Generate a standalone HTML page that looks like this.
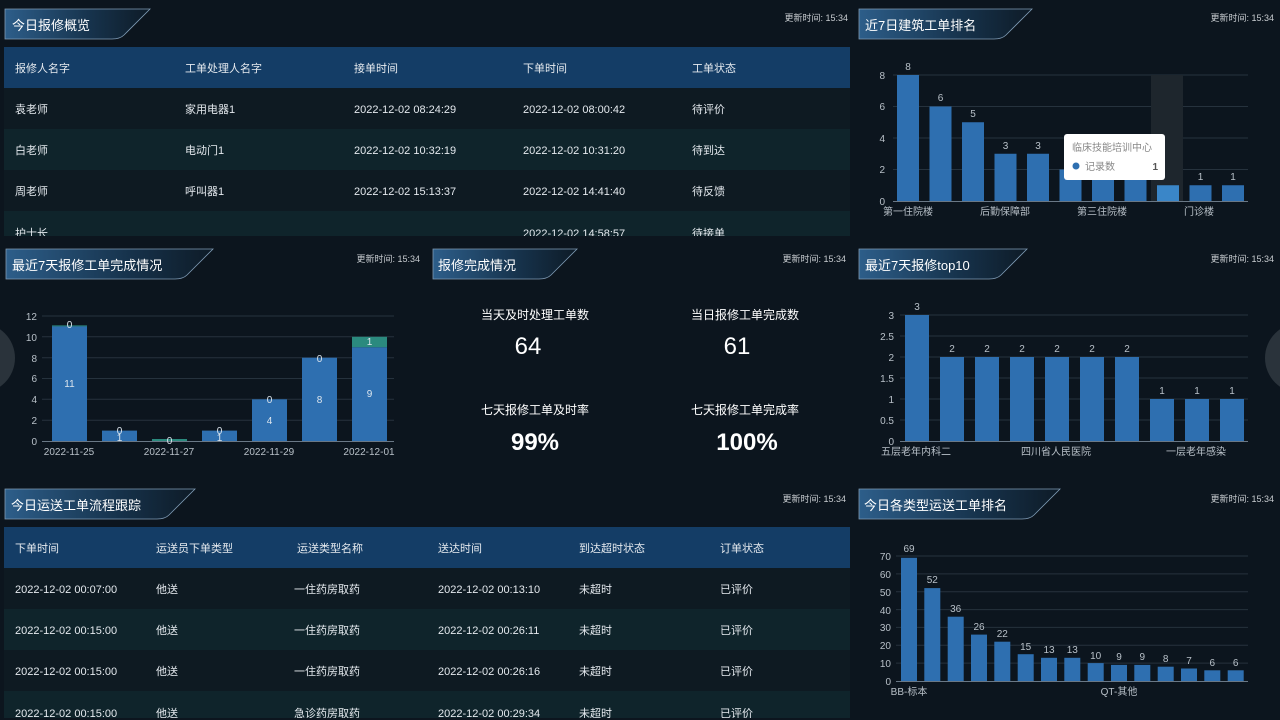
<!DOCTYPE html>
<html><head><meta charset="utf-8"><style>
html,body{margin:0;padding:0;background:#0c151e;}
svg{display:block;font-family:"Liberation Sans","Noto Sans CJK SC",sans-serif;}
</style></head><body>
<svg width="1280" height="720" viewBox="0 0 1280 720" xmlns="http://www.w3.org/2000/svg">
<defs>
<linearGradient id="tg" x1="0" x2="1" y1="0" y2="0">
<stop offset="0" stop-color="#2d5e8a"/><stop offset="0.6" stop-color="#16324b"/><stop offset="1" stop-color="#0e1b27"/>
</linearGradient>
</defs>
<rect width="1280" height="720" fill="#0c151e"/>
<!-- side circles -->
<circle cx="-20" cy="358" r="35" fill="#2a333b"/>
<circle cx="1300" cy="358" r="35" fill="#2a333b"/>

<g font-size="9" fill="#c8ccd0" text-anchor="end">
<text x="848" y="21">更新时间: 15:34</text>
<text x="1274" y="21">更新时间: 15:34</text>
<text x="420" y="262">更新时间: 15:34</text>
<text x="846" y="262">更新时间: 15:34</text>
<text x="1274" y="262">更新时间: 15:34</text>
<text x="846" y="502">更新时间: 15:34</text>
<text x="1274" y="502">更新时间: 15:34</text>
</g>

<!-- title badges -->
<g stroke="#7f9bb5" stroke-width="0.8" fill="url(#tg)">
<path d="M5,9 H150 L124,35 Q120,39 112,39 H5 Z"/>
<path d="M859,9 H1032 L1006,35 Q1002,39 994,39 H859 Z"/>
<path d="M6,249 H213 L187,275 Q183,279 175,279 H6 Z"/>
<path d="M433,249 H577 L551,275 Q547,279 539,279 H433 Z"/>
<path d="M859,249 H1027 L1001,275 Q997,279 989,279 H859 Z"/>
<path d="M5,489 H195 L169,515 Q165,519 157,519 H5 Z"/>
<path d="M859,489 H1060 L1034,515 Q1030,519 1022,519 H859 Z"/>
</g>
<g font-size="13" fill="#ffffff">
<text x="12" y="30">今日报修概览</text>
<text x="865" y="30">近7日建筑工单排名</text>
<text x="12" y="270">最近7天报修工单完成情况</text>
<text x="438" y="270">报修完成情况</text>
<text x="865" y="270">最近7天报修top10</text>
<text x="11" y="510">今日运送工单流程跟踪</text>
<text x="864" y="510">今日各类型运送工单排名</text>
</g>

<!-- top-left table -->
<rect x="4" y="47" width="846" height="41" fill="#143d66"/>
<rect x="4" y="88" width="846" height="41" fill="#0e1a22"/>
<rect x="4" y="129" width="846" height="41" fill="#0f242b"/>
<rect x="4" y="170" width="846" height="41" fill="#0e1a22"/>
<rect x="4" y="211" width="846" height="25" fill="#0f242b"/>
<g font-size="11" fill="#e4e9ee">
<text x="15" y="72">报修人名字</text><text x="185" y="72">工单处理人名字</text><text x="354" y="72">接单时间</text><text x="523" y="72">下单时间</text><text x="692" y="72">工单状态</text>
<text x="15" y="113">袁老师</text><text x="185" y="113">家用电器1</text><text x="354" y="113">2022-12-02 08:24:29</text><text x="523" y="113">2022-12-02 08:00:42</text><text x="692" y="113">待评价</text>
<text x="15" y="154">白老师</text><text x="185" y="154">电动门1</text><text x="354" y="154">2022-12-02 10:32:19</text><text x="523" y="154">2022-12-02 10:31:20</text><text x="692" y="154">待到达</text>
<text x="15" y="195">周老师</text><text x="185" y="195">呼叫器1</text><text x="354" y="195">2022-12-02 15:13:37</text><text x="523" y="195">2022-12-02 14:41:40</text><text x="692" y="195">待反馈</text>
</g>
<svg x="0" y="211" width="850" height="25" overflow="hidden"><g font-size="11" fill="#e4e9ee">
<text x="15" y="26">护士长</text><text x="523" y="26">2022-12-02 14:58:57</text><text x="692" y="26">待接单</text></g></svg>

<!-- bottom-left table -->
<rect x="4" y="527" width="846" height="41" fill="#143d66"/>
<rect x="4" y="568" width="846" height="41" fill="#0e1a22"/>
<rect x="4" y="609" width="846" height="41" fill="#0f242b"/>
<rect x="4" y="650" width="846" height="41" fill="#0e1a22"/>
<rect x="4" y="691" width="846" height="27" fill="#0f242b"/>
<g font-size="11" fill="#e4e9ee">
<text x="15" y="552">下单时间</text><text x="156" y="552">运送员下单类型</text><text x="297" y="552">运送类型名称</text><text x="438" y="552">送达时间</text><text x="579" y="552">到达超时状态</text><text x="720" y="552">订单状态</text>
<text x="15" y="593">2022-12-02 00:07:00</text><text x="156" y="593">他送</text><text x="294" y="593">一住药房取药</text><text x="438" y="593">2022-12-02 00:13:10</text><text x="579" y="593">未超时</text><text x="720" y="593">已评价</text>
<text x="15" y="634">2022-12-02 00:15:00</text><text x="156" y="634">他送</text><text x="294" y="634">一住药房取药</text><text x="438" y="634">2022-12-02 00:26:11</text><text x="579" y="634">未超时</text><text x="720" y="634">已评价</text>
<text x="15" y="675">2022-12-02 00:15:00</text><text x="156" y="675">他送</text><text x="294" y="675">一住药房取药</text><text x="438" y="675">2022-12-02 00:26:16</text><text x="579" y="675">未超时</text><text x="720" y="675">已评价</text>
</g>
<svg x="0" y="691" width="850" height="27" overflow="hidden"><g font-size="11" fill="#e4e9ee">
<text x="15" y="26">2022-12-02 00:15:00</text><text x="156" y="26">他送</text><text x="294" y="26">急诊药房取药</text><text x="438" y="26">2022-12-02 00:29:34</text><text x="579" y="26">未超时</text><text x="720" y="26">已评价</text></g></svg>

<!-- middle stats -->
<g fill="#ffffff" text-anchor="middle">
<text x="535" y="319" font-size="12">当天及时处理工单数</text>
<text x="745" y="319" font-size="12">当日报修工单完成数</text>
<text x="528" y="354" font-size="24">64</text>
<text x="737" y="354" font-size="24">61</text>
<text x="535" y="414" font-size="12">七天报修工单及时率</text>
<text x="745" y="414" font-size="12">七天报修工单完成率</text>
<text x="535" y="450" font-size="24" font-weight="bold">99%</text>
<text x="747" y="450" font-size="24" font-weight="bold">100%</text>
</g>

<!-- chart 1 -->
<g stroke="#26323d" stroke-width="1">
<line x1="893" x2="1248" y1="75" y2="75"/><line x1="893" x2="1248" y1="106.5" y2="106.5"/><line x1="893" x2="1248" y1="138" y2="138"/><line x1="893" x2="1248" y1="169.5" y2="169.5"/>
</g>
<rect x="1151" y="75" width="32" height="126" fill="#1e262d"/>
<g fill="#2e6fb0">
<rect x="897" y="75" width="22" height="126"/><rect x="929.5" y="106.5" width="22" height="94.5"/><rect x="962" y="122.25" width="22" height="78.75"/><rect x="994.5" y="153.75" width="22" height="47.25"/><rect x="1027" y="153.75" width="22" height="47.25"/><rect x="1059.5" y="169.5" width="22" height="31.5"/><rect x="1092" y="169.5" width="22" height="31.5"/><rect x="1124.5" y="169.5" width="22" height="31.5"/><rect x="1157" y="185.25" width="22" height="15.75" fill="#3a86c8"/><rect x="1189.5" y="185.25" width="22" height="15.75"/><rect x="1222" y="185.25" width="22" height="15.75"/>
</g>
<line x1="893" x2="1248" y1="201.5" y2="201.5" stroke="#6a7886"/>
<g font-size="10" fill="#b8c0c8" text-anchor="end">
<text x="885" y="79">8</text><text x="885" y="110">6</text><text x="885" y="142">4</text><text x="885" y="173">2</text><text x="885" y="205">0</text></g>
<g font-size="10" fill="#b8c0c8" text-anchor="middle">
<text x="908" y="70">8</text><text x="940.5" y="101">6</text><text x="973" y="117">5</text><text x="1005.5" y="149">3</text><text x="1038" y="149">3</text><text x="1200.5" y="180">1</text><text x="1233" y="180">1</text>
<text x="908" y="215">第一住院楼</text><text x="1005" y="215">后勤保障部</text><text x="1102" y="215">第三住院楼</text><text x="1199" y="215">门诊楼</text></g>
<rect x="1064" y="134" width="101" height="46" rx="3" fill="#ffffff"/>
<text x="1072" y="151" font-size="10" fill="#888">临床技能培训中心</text>
<circle cx="1076" cy="166" r="3.5" fill="#2e6fb0"/>
<text x="1085" y="170" font-size="10" fill="#888">记录数</text>
<text x="1158" y="170" font-size="10" fill="#555" font-weight="bold" text-anchor="end">1</text>

<!-- chart 2 -->
<g stroke="#26323d">
<line x1="42" x2="394" y1="316" y2="316"/><line x1="42" x2="394" y1="336.8" y2="336.8"/><line x1="42" x2="394" y1="357.7" y2="357.7"/><line x1="42" x2="394" y1="378.5" y2="378.5"/><line x1="42" x2="394" y1="399.3" y2="399.3"/><line x1="42" x2="394" y1="420.2" y2="420.2"/>
</g>
<g fill="#2e6fb0">
<rect x="52" y="326.4" width="35" height="114.6"/><rect x="102" y="430.6" width="35" height="10.4"/><rect x="202" y="430.6" width="35" height="10.4"/><rect x="252" y="399.3" width="35" height="41.7"/><rect x="302" y="357.7" width="35" height="83.3"/><rect x="352" y="347.2" width="35" height="93.8"/>
</g>
<g fill="#2b8a7e"><rect x="52" y="325.4" width="35" height="1"/><rect x="152" y="439" width="35" height="2"/><rect x="352" y="336.8" width="35" height="10.4"/></g>
<line x1="42" x2="394" y1="441.5" y2="441.5" stroke="#6a7886"/>
<g font-size="10" fill="#b8c0c8" text-anchor="end">
<text x="37" y="320">12</text><text x="37" y="341">10</text><text x="37" y="362">8</text><text x="37" y="382">6</text><text x="37" y="403">4</text><text x="37" y="424">2</text><text x="37" y="445">0</text></g>
<g font-size="10" fill="#dde6ee" text-anchor="middle">
<text x="69.5" y="328">0</text><text x="69.5" y="387">11</text>
<text x="119.5" y="434">0</text><text x="119.5" y="441">1</text>
<text x="169.5" y="444">0</text>
<text x="219.5" y="434">0</text><text x="219.5" y="441">1</text>
<text x="269.5" y="403">0</text><text x="269.5" y="424">4</text>
<text x="319.5" y="362">0</text><text x="319.5" y="403">8</text>
<text x="369.5" y="345">1</text><text x="369.5" y="397">9</text></g>
<g font-size="10" fill="#b8c0c8" text-anchor="middle">
<text x="69" y="455">2022-11-25</text><text x="169" y="455">2022-11-27</text><text x="269" y="455">2022-11-29</text><text x="369" y="455">2022-12-01</text></g>

<!-- chart 3 -->
<g stroke="#26323d">
<line x1="900" x2="1248" y1="315" y2="315"/><line x1="900" x2="1248" y1="336" y2="336"/><line x1="900" x2="1248" y1="357" y2="357"/><line x1="900" x2="1248" y1="378" y2="378"/><line x1="900" x2="1248" y1="399" y2="399"/><line x1="900" x2="1248" y1="420" y2="420"/>
</g>
<g fill="#2e6fb0">
<rect x="905" y="315" width="24" height="126"/><rect x="940" y="357" width="24" height="84"/><rect x="975" y="357" width="24" height="84"/><rect x="1010" y="357" width="24" height="84"/><rect x="1045" y="357" width="24" height="84"/><rect x="1080" y="357" width="24" height="84"/><rect x="1115" y="357" width="24" height="84"/><rect x="1150" y="399" width="24" height="42"/><rect x="1185" y="399" width="24" height="42"/><rect x="1220" y="399" width="24" height="42"/>
</g>
<line x1="900" x2="1248" y1="441.5" y2="441.5" stroke="#6a7886"/>
<g font-size="10" fill="#b8c0c8" text-anchor="end">
<text x="894" y="319">3</text><text x="894" y="340">2.5</text><text x="894" y="361">2</text><text x="894" y="382">1.5</text><text x="894" y="403">1</text><text x="894" y="424">0.5</text><text x="894" y="445">0</text></g>
<g font-size="10" fill="#b8c0c8" text-anchor="middle">
<text x="917" y="310">3</text><text x="952" y="352">2</text><text x="987" y="352">2</text><text x="1022" y="352">2</text><text x="1057" y="352">2</text><text x="1092" y="352">2</text><text x="1127" y="352">2</text><text x="1162" y="394">1</text><text x="1197" y="394">1</text><text x="1232" y="394">1</text>
<text x="916" y="455">五层老年内科二</text><text x="1056" y="455">四川省人民医院</text><text x="1196" y="455">一层老年感染</text></g>

<!-- chart 4 -->
<g stroke="#26323d">
<line x1="896" x2="1248" y1="556" y2="556"/><line x1="896" x2="1248" y1="573.9" y2="573.9"/><line x1="896" x2="1248" y1="591.7" y2="591.7"/><line x1="896" x2="1248" y1="609.6" y2="609.6"/><line x1="896" x2="1248" y1="627.4" y2="627.4"/><line x1="896" x2="1248" y1="645.3" y2="645.3"/><line x1="896" x2="1248" y1="663.1" y2="663.1"/>
</g>
<g fill="#2e6fb0">
<rect x="901" y="557.8" width="16" height="123.2"/><rect x="924.3" y="588.1" width="16" height="92.9"/><rect x="947.7" y="616.7" width="16" height="64.3"/><rect x="971" y="634.6" width="16" height="46.4"/><rect x="994.3" y="641.7" width="16" height="39.3"/><rect x="1017.7" y="654.2" width="16" height="26.8"/><rect x="1041" y="657.8" width="16" height="23.2"/><rect x="1064.3" y="657.8" width="16" height="23.2"/><rect x="1087.7" y="663.1" width="16" height="17.9"/><rect x="1111" y="664.9" width="16" height="16.1"/><rect x="1134.3" y="664.9" width="16" height="16.1"/><rect x="1157.7" y="666.7" width="16" height="14.3"/><rect x="1181" y="668.5" width="16" height="12.5"/><rect x="1204.3" y="670.3" width="16" height="10.7"/><rect x="1227.7" y="670.3" width="16" height="10.7"/>
</g>
<line x1="896" x2="1248" y1="681.5" y2="681.5" stroke="#6a7886"/>
<g font-size="10" fill="#b8c0c8" text-anchor="end">
<text x="891" y="560">70</text><text x="891" y="578">60</text><text x="891" y="596">50</text><text x="891" y="614">40</text><text x="891" y="631">30</text><text x="891" y="649">20</text><text x="891" y="667">10</text><text x="891" y="685">0</text></g>
<g font-size="10" fill="#b8c0c8" text-anchor="middle">
<text x="909" y="552">69</text><text x="932.3" y="583">52</text><text x="955.7" y="612">36</text><text x="979" y="630">26</text><text x="1002.3" y="637">22</text><text x="1025.7" y="650">15</text><text x="1049" y="653">13</text><text x="1072.3" y="653">13</text><text x="1095.7" y="659">10</text><text x="1119" y="660">9</text><text x="1142.3" y="660">9</text><text x="1165.7" y="662">8</text><text x="1189" y="664">7</text><text x="1212.3" y="666">6</text><text x="1235.7" y="666">6</text>
<text x="909" y="695">BB-标本</text><text x="1119" y="695">QT-其他</text></g>
</svg>
</body></html>
